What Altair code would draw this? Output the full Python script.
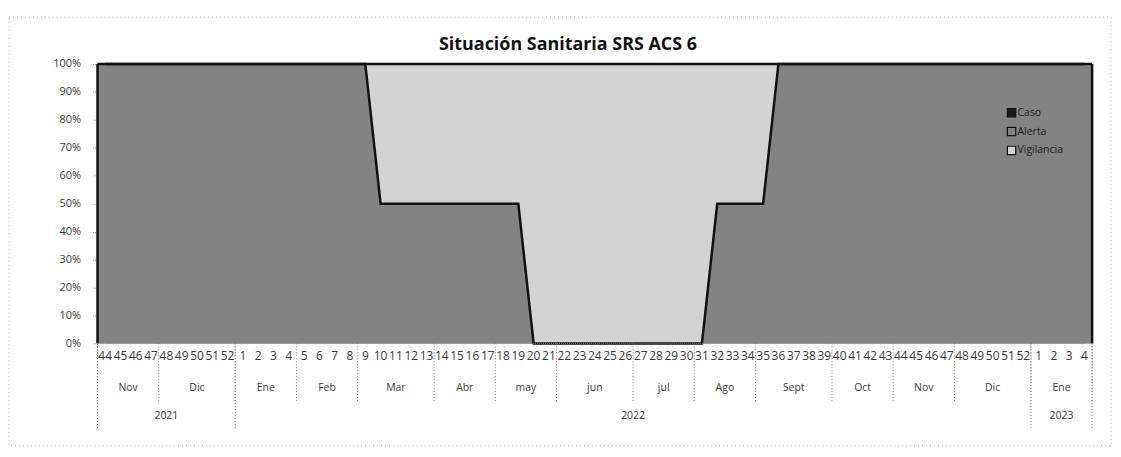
import altair as alt
import pandas as pd

# ---------------- data ----------------
week_labels = ["44", "45", "46", "47", "48", "49", "50", "51", "52",
               "1", "2", "3", "4", "5", "6", "7", "8", "9", "10",
               "11", "12", "13", "14", "15", "16", "17", "18", "19", "20",
               "21", "22", "23", "24", "25", "26", "27", "28", "29", "30",
               "31", "32", "33", "34", "35", "36", "37", "38", "39", "40",
               "41", "42", "43", "44", "45", "46", "47", "48", "49", "50",
               "51", "52", "1", "2", "3", "4"]

caso = [0, 0, 0, 0, 0, 0, 0, 0, 0,
        0, 0, 0, 0, 0, 0, 0, 0, 0, 0,
        0, 0, 0, 0, 0, 0, 0, 0, 0, 0,
        0, 0, 0, 0, 0, 0, 0, 0, 0, 0,
        0, 0, 0, 0, 0, 0, 0, 0, 0, 0,
        0, 0, 0, 0, 0, 0, 0, 0, 0, 0,
        0, 0, 0, 0, 0, 0]

alerta = [1, 1, 1, 1, 1, 1, 1, 1, 1,
          1, 1, 1, 1, 1, 1, 1, 1, 1, 1,
          1, 1, 1, 1, 1, 1, 1, 1, 1, 0,
          0, 0, 0, 0, 0, 0, 0, 0, 0, 0,
          0, 1, 1, 1, 1, 1, 1, 1, 1, 1,
          1, 1, 1, 1, 1, 1, 1, 1, 1, 1,
          1, 1, 1, 1, 1, 1]

vigilancia = [0, 0, 0, 0, 0, 0, 0, 0, 0,
              0, 0, 0, 0, 0, 0, 0, 0, 0, 1,
              1, 1, 1, 1, 1, 1, 1, 1, 1, 1,
              1, 1, 1, 1, 1, 1, 1, 1, 1, 1,
              1, 1, 1, 1, 1, 0, 0, 0, 0, 0,
              0, 0, 0, 0, 0, 0, 0, 0, 0, 0,
              0, 0, 0, 0, 0, 0]

series_names = ["Caso", "Alerta", "Vigilancia"]
series_colors = ["#1a1a1a", "#838383", "#d3d3d3"]
legend_y = [49, 68, 87]

month_names = ["Nov", "Dic", "Ene", "Feb", "Mar", "Abr", "may", "jun", "jul",
               "Ago", "Sept", "Oct", "Nov", "Dic", "Ene"]
month_weeks = [4, 5, 4, 4, 5, 4, 4, 5, 4, 4, 5, 4, 4, 5, 4]

year_names = ["2021", "2022", "2023"]
year_weeks = [9, 52, 4]

y_ticks = [0, 0.1, 0.2, 0.3, 0.4, 0.5, 0.6, 0.7, 0.8, 0.9, 1.0]

title_text = "Situación Sanitaria SRS ACS 6"

# ---------------- tables ----------------
W, H = 1000, 281
N = len(week_labels)

rows = []
for i in range(N):
    for k, (s, vals) in enumerate(zip(series_names, (caso, alerta, vigilancia))):
        rows.append({"pos": i + 0.5, "serie": s, "orden": k, "valor": vals[i]})
df = pd.DataFrame(rows)

line_df = pd.DataFrame({
    "pos": [i + 0.5 for i in range(N)],
    "valor": [(caso[i] + alerta[i]) / (caso[i] + alerta[i] + vigilancia[i]) for i in range(N)],
})

wk_df = pd.DataFrame({"pos": [i + 0.5 for i in range(N)], "lab": week_labels})

m_rows, b_rows = [], []
start = 0
for name, n in zip(month_names, month_weeks):
    m_rows.append({"pos": start + n / 2, "lab": name})
    b_rows.append({"pos": start})
    start += n
b_rows.append({"pos": start})
m_df = pd.DataFrame(m_rows)
mb_df = pd.DataFrame(b_rows)

y_rows, yb_rows = [], []
start = 0
for name, n in zip(year_names, year_weeks):
    y_rows.append({"pos": start + n / 2, "lab": name})
    yb_rows.append({"pos": start})
    start += n
yb_rows.append({"pos": start})
yr_df = pd.DataFrame(y_rows)
yb_df = pd.DataFrame(yb_rows)

FONT = "Open Sans"
TXT = "#3a3a3a"

xscale = alt.Scale(domain=[0, N], nice=False, zero=False)
X = alt.X("pos:Q", scale=xscale, axis=None)

y_axis = alt.Axis(values=y_ticks, format=".0%", title=None, grid=False, domain=False,
                  tickSize=5, tickColor="#999", tickDash=[1, 1],
                  labelFontSize=11, labelColor=TXT, labelFont=FONT, labelPadding=12)
yscale = alt.Scale(domain=[0, 1], nice=False)

area = alt.Chart(df).mark_area(opacity=1, interpolate="linear").encode(
    x=X,
    y=alt.Y("valor:Q", stack="normalize", scale=yscale, axis=y_axis),
    color=alt.Color("serie:N", scale=alt.Scale(domain=series_names, range=series_colors), legend=None),
    order=alt.Order("orden:Q"),
)

line = alt.Chart(line_df).mark_line(color="#111", strokeWidth=2.5).encode(
    x=X, y=alt.Y("valor:Q", scale=yscale, axis=y_axis)
)

# plot frame: black on top, left and right; dotted grey bottom axis line
one = pd.DataFrame({"a": [0]})
frame_top = alt.Chart(one).mark_rule(color="#111", strokeWidth=2.5).encode(
    x=alt.value(0), x2=alt.value(W), y=alt.value(0))
frame_left = alt.Chart(one).mark_rule(color="#111", strokeWidth=2.5).encode(
    x=alt.value(0), y=alt.value(0), y2=alt.value(H))
frame_right = alt.Chart(one).mark_rule(color="#111", strokeWidth=2.5).encode(
    x=alt.value(W), y=alt.value(0), y2=alt.value(H))
frame_bottom = alt.Chart(one).mark_rule(color="#888", strokeWidth=1, strokeDash=[1, 1]).encode(
    x=alt.value(0), x2=alt.value(W), y=alt.value(H))

wk_text = alt.Chart(wk_df).mark_text(fontSize=12, font=FONT, color=TXT, baseline="middle").encode(
    x=X, y=alt.value(H + 13), text="lab:N"
)
m_text = alt.Chart(m_df).mark_text(fontSize=10.5, font=FONT, color=TXT, baseline="middle").encode(
    x=X, y=alt.value(H + 45), text="lab:N"
)
yr_text = alt.Chart(yr_df).mark_text(fontSize=10.5, font=FONT, color=TXT, baseline="middle").encode(
    x=X, y=alt.value(H + 73), text="lab:N"
)
m_sep = alt.Chart(mb_df).mark_rule(color="#777", strokeDash=[1, 2], strokeWidth=1).encode(
    x=X, y=alt.value(H), y2=alt.value(H + 59)
)
y_sep = alt.Chart(yb_df).mark_rule(color="#777", strokeDash=[1, 2], strokeWidth=1).encode(
    x=X, y=alt.value(H), y2=alt.value(H + 85)
)

legend_layers = []
for s, c, ly in zip(series_names, series_colors, legend_y):
    ldf = pd.DataFrame({"serie": [s]})
    legend_layers.append(
        alt.Chart(ldf).mark_square(size=70, opacity=1, fill=c, stroke="#111", strokeWidth=1.2).encode(
            x=alt.value(919), y=alt.value(ly))
    )
    legend_layers.append(
        alt.Chart(ldf).mark_text(align="left", baseline="middle", fontSize=10.5, font=FONT, color="#222").encode(
            x=alt.value(925), y=alt.value(ly), text="serie:N")
    )

title = alt.Chart(pd.DataFrame({"t": [title_text]})).mark_text(
    fontSize=18, fontWeight="bold", font=FONT, color="#111", baseline="middle"
).encode(x=alt.value(473), y=alt.value(-19), text="t:N")

border = alt.Chart(one).mark_rect(
    fill=None, stroke="#aaa", strokeDash=[1, 3], strokeWidth=1
).encode(x=alt.value(-89), x2=alt.value(1019), y=alt.value(-47), y2=alt.value(384))

chart = alt.layer(area, line, frame_top, frame_left, frame_right, frame_bottom,
                  wk_text, m_text, yr_text, m_sep, y_sep, *legend_layers, title, border).properties(
    width=W, height=H,
    autosize=alt.AutoSizeParams(type="none"),
    padding={"left": 90, "top": 55, "right": 21, "bottom": 110},
    background="white",
).configure_view(fill="#838383", strokeWidth=0)

chart.save("out.html", embed_options={"renderer": "svg", "actions": False})
